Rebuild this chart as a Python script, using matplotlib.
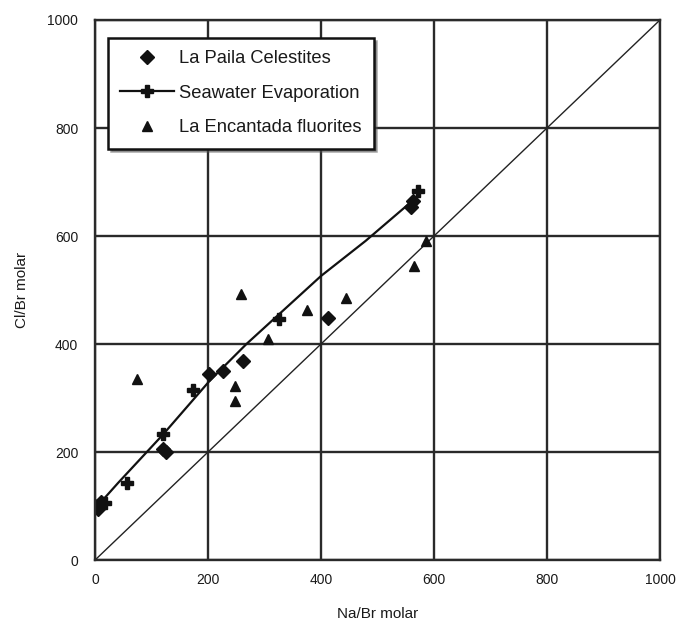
import numpy as np
import matplotlib
matplotlib.use("Agg")
import matplotlib.pyplot as plt

plt.rcParams['font.family'] = ['Liberation Sans', 'DejaVu Sans']

# La Paila celestites (Na/Br, Cl/Br)
paila_na = [0, 5, 10, 120, 126, 201, 227, 262, 412, 562, 559]
paila_cl = [100, 95, 108, 205, 200, 345, 351, 369, 449, 664, 654]

# seawater evaporation curve and its points
sw_line_na = [0, 41, 120, 203, 268, 400, 479, 565]
sw_line_cl = [95, 143, 232, 332, 400, 526, 591, 668]
sw_pts_na = [18, 56, 120, 173, 325, 572]
sw_pts_cl = [106, 143, 234, 315, 446, 684]

# La Encantada fluorites
enc_na = [75, 259, 376, 306, 247, 247, 444, 565, 586]
enc_cl = [335, 492, 463, 409, 323, 294, 486, 544, 590]

ticks = [0, 200, 400, 600, 800, 1000]

fig = plt.figure(figsize=(6.78, 6.21), dpi=100)
ax = fig.add_axes([0.1401, 0.0981, 0.8333, 0.8697])

ax.set_xlim(0, 1000)
ax.set_ylim(0, 1000)
ax.set_xticks(ticks)
ax.set_yticks(ticks)
ax.grid(True, color='#2a2a2a', linewidth=1.7)
ax.set_axisbelow(True)
for s in ax.spines.values():
    s.set_color('#2a2a2a')
    s.set_linewidth(1.7)
ax.tick_params(length=0, labelsize=10, colors='#1a1a1a')
ax.tick_params(axis='x', pad=9.5)
ax.tick_params(axis='y', pad=12)

# 1:1 line
ax.plot([0, 1000], [0, 1000], color='#222222', linewidth=1.0)

ax.plot(paila_na, paila_cl, linestyle='none', marker='D', markersize=7.5,
        color='#111111', label='La Paila Celestites')
ax.plot(sw_line_na, sw_line_cl, color='#111111', linewidth=1.6)
ax.plot(sw_pts_na, sw_pts_cl, linestyle='none', marker='P', markersize=8,
        color='#111111')
# legend proxy for the seawater line with markers
ax.plot([], [], color='#111111', linewidth=1.6, marker='P', markersize=8,
        label='Seawater Evaporation')
ax.plot(enc_na, enc_cl, linestyle='none', marker='^', markersize=7.5,
        color='#111111', label='La Encantada fluorites')

ax.set_xlabel('Na/Br molar', fontsize=11, color='#1a1a1a', labelpad=14)
ax.set_ylabel('Cl/Br molar', fontsize=11, color='#1a1a1a', labelpad=13)

leg = ax.legend(loc='upper left', bbox_to_anchor=(0.023, 0.967),
                fontsize=13.2, frameon=True, fancybox=False, shadow=True,
                labelspacing=0.95, handlelength=2.9, handletextpad=0.27,
                borderpad=0.68, borderaxespad=0)
leg.get_frame().set_edgecolor('#111111')
leg.get_frame().set_linewidth(1.8)
leg.get_frame().set_alpha(1)
for t in leg.get_texts():
    t.set_color('#1a1a1a')

fig.savefig('out.png', dpi=100)
